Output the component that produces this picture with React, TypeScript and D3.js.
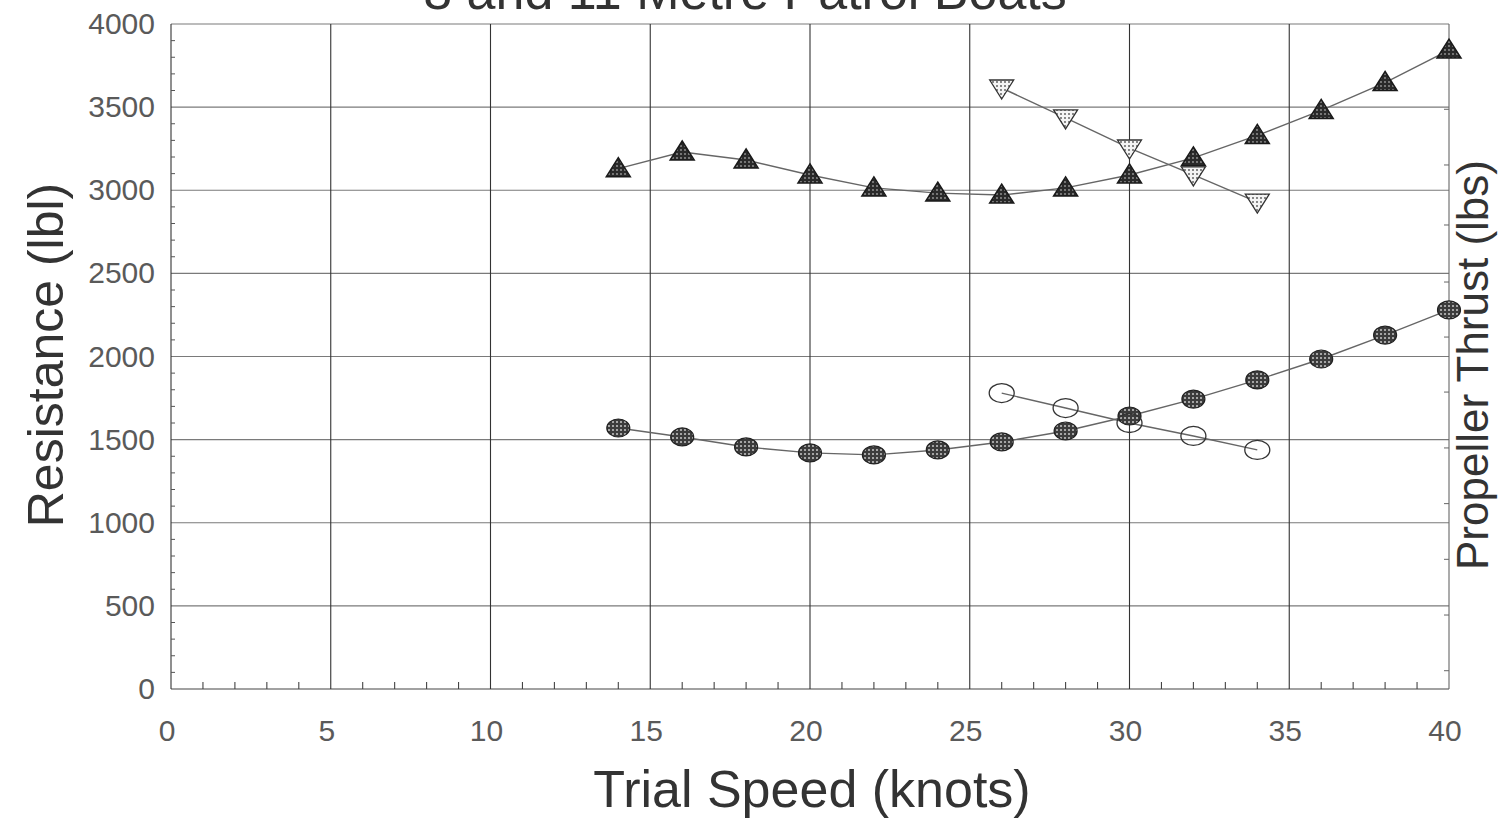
import React, { useRef, useEffect } from 'react';
import * as d3 from 'd3';

// ── Data ────────────────────────────────────────────────────────────────────
const SPEED_FULL = [14, 16, 18, 20, 22, 24, 26, 28, 30, 32, 34, 36, 38, 40];
const SPEED_SHORT = [26, 28, 30, 32, 34];

const RESIST_11M = [3130, 3230, 3182, 3092, 3014, 2983, 2971, 3014, 3092, 3195, 3330, 3480, 3648, 3843];
const THRUST_11M = [3615, 3435, 3254, 3092, 2929];
const RESIST_8M = [1570, 1516, 1456, 1420, 1408, 1438, 1486, 1552, 1642, 1744, 1859, 1985, 2129, 2280];
const THRUST_8M = [1780, 1690, 1600, 1522, 1438];

const X_TICKS = [0, 5, 10, 15, 20, 25, 30, 35, 40];
const Y_TICKS = [0, 500, 1000, 1500, 2000, 2500, 3000, 3500, 4000];
// unlabelled ticks on the right-hand (thrust) axis, in resistance units
const RIGHT_TICKS = [110, 445, 780, 1115, 1450, 1786, 2117, 2448, 2791, 3152, 3487, 3822];

const TITLE = '8 and 11 Metre Patrol Boats';
const X_LABEL = 'Trial Speed (knots)';
const Y_LABEL = 'Resistance (lbl)';
const Y2_LABEL = 'Propeller Thrust (lbs)';

const FONT = 'Liberation Sans, Arial, sans-serif';

export default function App() {
  const ref = useRef<SVGSVGElement | null>(null);

  useEffect(() => {
    if (!ref.current) return;
    const svg = d3.select(ref.current);
    svg.selectAll('*').remove();

    const totalW = 1509;
    const totalH = 822;
    const margin = { top: 24, right: 60, bottom: 133, left: 171 };
    const width = totalW - margin.left - margin.right;
    const height = totalH - margin.top - margin.bottom;

    const x = d3.scaleLinear().domain([0, 40]).range([0, width]);
    const y = d3.scaleLinear().domain([0, 4000]).range([height, 0]);

    // ── Patterns for the stippled markers ─────────────────────────────────────
    const defs = svg.append('defs');
    const dots = (id: string, bg: string, dot: string, size: number, r: number) => {
      const p = defs.append('pattern')
        .attr('id', id)
        .attr('patternUnits', 'userSpaceOnUse')
        .attr('width', size).attr('height', size);
      p.append('rect').attr('width', size).attr('height', size).attr('fill', bg);
      p.append('circle').attr('cx', size / 2).attr('cy', size / 2).attr('r', r).attr('fill', dot);
    };
    dots('darkDots', '#2a2a2a', '#9a9a9a', 4, 0.9);
    dots('circDots', '#3c3c3c', '#c8c8c8', 4, 1.0);
    dots('lightDots', '#f4f4f4', '#555', 4, 0.9);

    const g = svg.append('g').attr('transform', `translate(${margin.left},${margin.top})`);

    // ── Grid ──────────────────────────────────────────────────────────────────
    Y_TICKS.forEach(t => {
      g.append('line')
        .attr('x1', 0).attr('x2', width)
        .attr('y1', y(t)).attr('y2', y(t))
        .attr('stroke', t === 0 ? '#444' : '#7a7a7a')
        .attr('stroke-width', 1.2);
    });
    X_TICKS.forEach(t => {
      g.append('line')
        .attr('x1', x(t)).attr('x2', x(t))
        .attr('y1', 0).attr('y2', height)
        .attr('stroke', t === 40 ? '#666' : '#333')
        .attr('stroke-width', 1.1);
    });

    // minor ticks (inside)
    d3.range(0, 41, 1).forEach(t => {
      if (t % 5 === 0) return;
      g.append('line')
        .attr('x1', x(t)).attr('x2', x(t))
        .attr('y1', height).attr('y2', height - 7)
        .attr('stroke', '#444').attr('stroke-width', 1.1);
    });
    d3.range(0, 4001, 100).forEach(t => {
      if (t % 500 === 0) return;
      g.append('line')
        .attr('x1', 0).attr('x2', 4)
        .attr('y1', y(t)).attr('y2', y(t))
        .attr('stroke', '#555').attr('stroke-width', 1);
    });
    RIGHT_TICKS.forEach(t => {
      g.append('line')
        .attr('x1', width).attr('x2', width - 5)
        .attr('y1', y(t)).attr('y2', y(t))
        .attr('stroke', '#666').attr('stroke-width', 1);
    });

    // ── Tick labels ───────────────────────────────────────────────────────────
    Y_TICKS.forEach(t => {
      g.append('text')
        .attr('x', -16).attr('y', y(t) + 10)
        .attr('text-anchor', 'end')
        .attr('font-family', FONT).attr('font-size', '30px')
        .attr('fill', '#5a5a5a')
        .text(t);
    });
    X_TICKS.forEach(t => {
      g.append('text')
        .attr('x', x(t) - 4).attr('y', height + 52)
        .attr('text-anchor', 'middle')
        .attr('font-family', FONT).attr('font-size', '30px')
        .attr('fill', '#5a5a5a')
        .text(t);
    });

    // ── Lines ─────────────────────────────────────────────────────────────────
    const line = d3.line<[number, number]>()
      .x(d => x(d[0]))
      .y(d => y(d[1]));

    const series = [
      { xs: SPEED_FULL, ys: RESIST_11M, kind: 'up' },
      { xs: SPEED_SHORT, ys: THRUST_11M, kind: 'down' },
      { xs: SPEED_FULL, ys: RESIST_8M, kind: 'dot' },
      { xs: SPEED_SHORT, ys: THRUST_8M, kind: 'open' },
    ];

    series.forEach(s => {
      const pts = s.xs.map((v, i) => [v, s.ys[i]] as [number, number]);
      g.append('path')
        .datum(pts)
        .attr('d', line)
        .attr('fill', 'none')
        .attr('stroke', '#666')
        .attr('stroke-width', 1.4);
    });

    // ── Markers ───────────────────────────────────────────────────────────────
    series.forEach(s => {
      s.xs.forEach((v, i) => {
        const cx = x(v);
        const cy = y(s.ys[i]);
        if (s.kind === 'up') {
          g.append('path')
            .attr('d', `M${cx},${cy - 11} L${cx + 12},${cy + 8} L${cx - 12},${cy + 8} Z`)
            .attr('fill', 'url(#darkDots)')
            .attr('stroke', '#1a1a1a').attr('stroke-width', 1.5);
        } else if (s.kind === 'down') {
          g.append('path')
            .attr('d', `M${cx},${cy + 11} L${cx + 12},${cy - 8} L${cx - 12},${cy - 8} Z`)
            .attr('fill', 'url(#lightDots)')
            .attr('stroke', '#333').attr('stroke-width', 1.3);
        } else if (s.kind === 'dot') {
          g.append('ellipse')
            .attr('cx', cx).attr('cy', cy)
            .attr('rx', 11.5).attr('ry', 9)
            .attr('fill', 'url(#circDots)')
            .attr('stroke', '#222').attr('stroke-width', 1.2);
        } else {
          g.append('ellipse')
            .attr('cx', cx).attr('cy', cy)
            .attr('rx', 12.5).attr('ry', 9.5)
            .attr('fill', 'none')
            .attr('stroke', '#333').attr('stroke-width', 1.3);
        }
      });
    });

    // ── Titles ────────────────────────────────────────────────────────────────
    svg.append('text')
      .attr('x', 745).attr('y', 9)
      .attr('text-anchor', 'middle')
      .attr('font-family', FONT).attr('font-size', '52px')
      .attr('fill', '#333')
      .text(TITLE);

    svg.append('text')
      .attr('x', 812).attr('y', 807)
      .attr('text-anchor', 'middle')
      .attr('font-family', FONT).attr('font-size', '52px')
      .attr('fill', '#333')
      .text(X_LABEL);

    svg.append('text')
      .attr('transform', 'translate(63, 355) rotate(-90)')
      .attr('text-anchor', 'middle')
      .attr('font-family', FONT).attr('font-size', '50px')
      .attr('fill', '#333')
      .text(Y_LABEL);

    svg.append('text')
      .attr('transform', 'translate(1488, 365) rotate(-90)')
      .attr('text-anchor', 'middle')
      .attr('font-family', FONT).attr('font-size', '44px')
      .attr('fill', '#333')
      .text(Y2_LABEL);
  }, []);

  return (
    <svg
      ref={ref}
      width={1509}
      height={822}
      style={{ position: 'absolute', left: 0, top: 0, background: '#fff' }}
    />
  );
}
